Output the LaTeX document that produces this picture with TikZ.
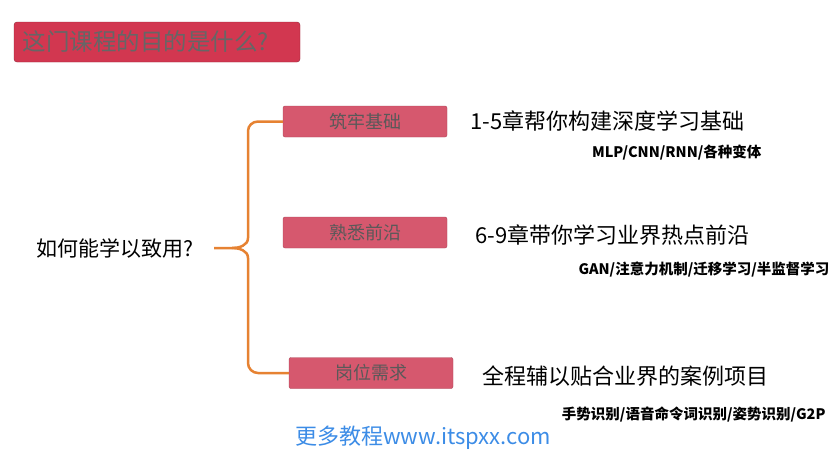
\documentclass[tikz,border=0pt]{standalone}
\usepackage{fontspec}
\setmainfont{Noto Sans CJK SC}
\usetikzlibrary{positioning,calc}
\definecolor{boxred}{RGB}{214,88,110}
\definecolor{titlered}{RGB}{210,55,80}
\definecolor{bracecol}{RGB}{230,130,50}
\definecolor{markblue}{RGB}{60,140,230}
\tikzset{
  goalbox/.style={draw=boxred!80!black, fill=boxred, rounded corners=2pt,
    minimum width=164pt, minimum height=31pt, text=black!65, font=\fontsize{18}{18}\selectfont},
  bigtext/.style={anchor=west, font=\fontsize{22}{22}\selectfont},
  smalltext/.style={anchor=east, font=\bfseries\fontsize{14.5}{14.5}\selectfont}
}
\begin{document}
\begin{tikzpicture}[x=1pt,y=-1pt]
    \useasboundingbox (0,0) rectangle (836,451);
    % Title
    \node[draw=titlered!70!black, fill=titlered, rounded corners=3pt, minimum width=286pt,
      minimum height=40pt, text=black!60, font=\fontsize{23.5}{23.5}\selectfont, text width=268pt]
      (title) at (157,42) {这门课程的目的是什么?};
    % Question
    \node[font=\fontsize{21}{21}\selectfont] (ask) at (115,248) {如何能学以致用?};
    % Goal boxes
    \node[goalbox] (base) at (365,121.5) {筑牢基础};
    \node[goalbox] (front) at (365,232.5) {熟悉前沿};
    \node[goalbox] (job) at (371,373) {岗位需求};
    % Brace
    \draw[bracecol, line width=2.5pt] (base.west) -- (258,121.5) to[out=180,in=90] (248,131)
      -- (248,238) to[out=-90,in=0] (232,248) -- (214,248);
    \draw[bracecol, line width=2.5pt] (232,248) to[out=0,in=90] (248,258)
      -- (248,363) to[out=-90,in=180] (258,373) -- (job.west);
    % Descriptions
    \node[bigtext] (d1) at (467,121) {1-5章帮你构建深度学习基础};
    \node[smalltext] (s1) at (765,153) {MLP/CNN/RNN/各种变体};
    \node[bigtext] (d2) at (472,235) {6-9章带你学习业界热点前沿};
    \node[smalltext] (s2) at (833,270) {GAN/注意力机制/迁移学习/半监督学习};
    \node[bigtext] (d3) at (479,376) {全程辅以贴合业界的案例项目};
    \node[smalltext] (s3) at (829,414) {手势识别/语音命令词识别/姿势识别/G2P};
    % Watermark
    \node[text=markblue, font=\fontsize{22}{22}\selectfont] (mark) at (423,438) {更多教程www.itspxx.com};
\end{tikzpicture}
\end{document}
